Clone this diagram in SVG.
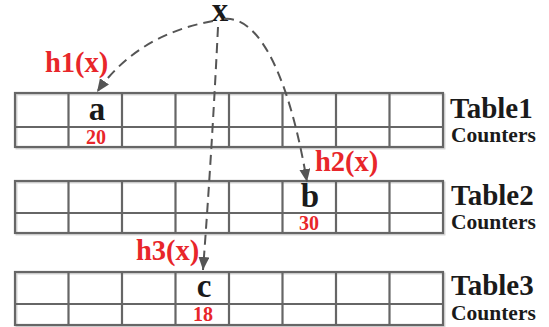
<svg xmlns="http://www.w3.org/2000/svg" width="549" height="327" viewBox="0 0 549 327">
<style>
  .grid { fill: none; stroke: #666; stroke-width: 2.2; }
  .shadow { fill: none; stroke: #d6d6d6; stroke-width: 2; }
  .lbl { font-family: "Liberation Serif", "Times New Roman", serif; font-weight: bold; fill: #1a1a1a; }
  .tname { font-size: 29px; }
  .cnt { font-size: 21.5px; }
  .key { font-size: 33px; text-anchor: middle; }
  .num { font-family: "Liberation Serif", "Times New Roman", serif; font-weight: bold; fill: #e8262a; font-size: 20px; text-anchor: middle; }
  .hf { font-family: "Liberation Serif", "Times New Roman", serif; font-weight: bold; fill: #e8262a; font-size: 28.5px; }
  .conn { fill: none; stroke: #555; stroke-width: 2; stroke-dasharray: 10 6; }
</style>
<defs>
  <marker id="arr" markerUnits="userSpaceOnUse" markerWidth="14" markerHeight="12" refX="13" refY="5.5" orient="auto">
    <path d="M0,0 L13,5.5 L0,11 Z" fill="#555"/>
  </marker>
</defs>

<g id="table1">
  <g transform="translate(1.5,1.5)" class="shadow"><rect x="15" y="93" width="428" height="54"/></g>
  <rect class="grid" x="15" y="93" width="428" height="54"/>
  <path class="grid" d="M15,127 H443 M68.5,93 V147 M122,93 V147 M175.5,93 V147 M229,93 V147 M282.5,93 V147 M336,93 V147 M389.5,93 V147"/>
  <text class="lbl key" x="97" y="120">a</text>
  <text class="num" x="96" y="144">20</text>
  <text class="lbl tname" x="450" y="118">Table1</text>
  <text class="lbl cnt" x="451" y="142">Counters</text>
</g>

<g id="table2">
  <g transform="translate(1.5,1.5)" class="shadow"><rect x="15" y="181" width="428" height="52"/></g>
  <rect class="grid" x="15" y="181" width="428" height="52"/>
  <path class="grid" d="M15,213 H443 M68.5,181 V233 M122,181 V233 M175.5,181 V233 M229,181 V233 M282.5,181 V233 M336,181 V233 M389.5,181 V233"/>
  <text class="lbl key" x="310" y="207">b</text>
  <text class="num" x="309" y="230">30</text>
  <text class="lbl tname" x="451" y="205">Table2</text>
  <text class="lbl cnt" x="451" y="228.5">Counters</text>
</g>

<g id="table3">
  <g transform="translate(1.5,1.5)" class="shadow"><rect x="15" y="272" width="428" height="53"/></g>
  <rect class="grid" x="15" y="272" width="428" height="53"/>
  <path class="grid" d="M15,304 H443 M68.5,272 V325 M122,272 V325 M175.5,272 V325 M229,272 V325 M282.5,272 V325 M336,272 V325 M389.5,272 V325"/>
  <text class="lbl key" x="204" y="297">c</text>
  <text class="num" x="203" y="321">18</text>
  <text class="lbl tname" x="451" y="295">Table3</text>
  <text class="lbl cnt" x="451" y="319.5">Counters</text>
</g>

<g id="key-x">
  <text class="lbl key" x="220" y="21">x</text>
</g>

<g id="connectors">
  <path class="conn" d="M213,21 C175,28 130,45 97,92" marker-end="url(#arr)"/>
  <path class="conn" d="M224,19 C260,15 290,80 307,182" marker-end="url(#arr)"/>
  <path class="conn" d="M218,27 Q212,150 203,270" marker-end="url(#arr)"/>
</g>

<g id="labels">
  <text class="hf" x="45" y="72">h1(x)</text>
  <text class="hf" x="315" y="171">h2(x)</text>
  <text class="hf" x="136" y="260">h3(x)</text>
</g>
</svg>
